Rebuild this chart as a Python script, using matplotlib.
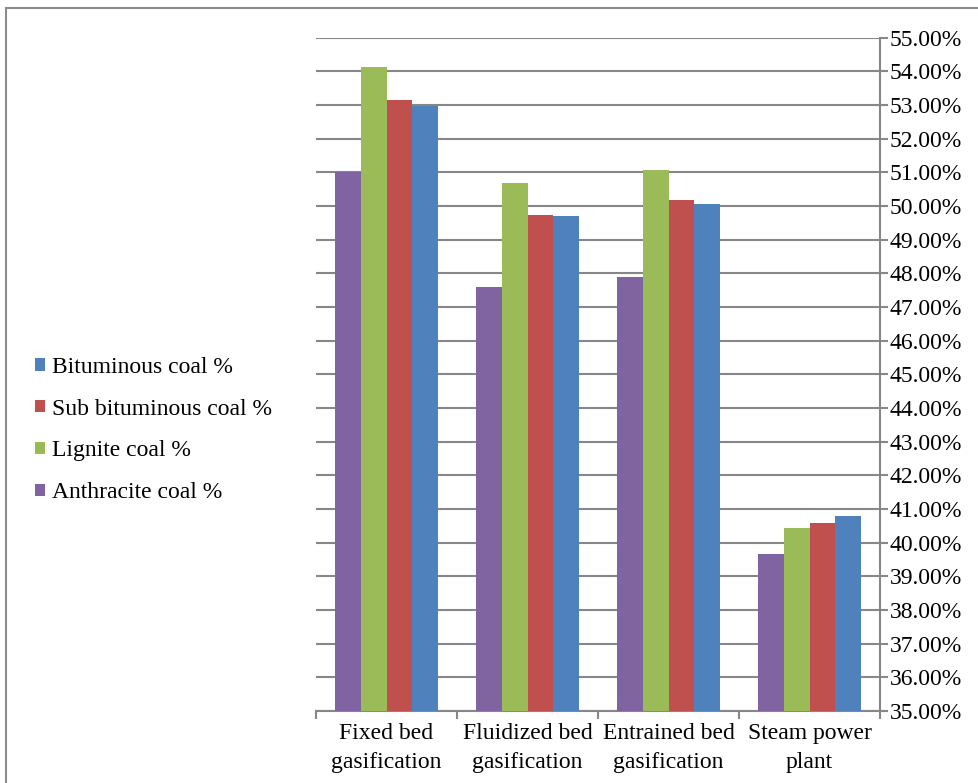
import matplotlib.pyplot as plt
from matplotlib.patches import Rectangle
from matplotlib.ticker import FuncFormatter, MultipleLocator
import numpy as np

plt.rcParams['font.family'] = ['Liberation Serif', 'DejaVu Serif']

# Efficiency (%) by technology and coal rank
categories = ['Fixed bed\ngasification', 'Fluidized bed\ngasification',
              'Entrained bed\ngasification', 'Steam power\nplant']
anthracite = [51.0, 47.6, 47.9, 39.67]
lignite = [54.11, 50.69, 51.07, 40.44]
sub_bituminous = [53.15, 49.74, 50.16, 40.57]
bituminous = [52.96, 49.69, 50.07, 40.79]

series = [
    ('Anthracite coal %', anthracite, '#8064A2'),
    ('Lignite coal %', lignite, '#9BBB59'),
    ('Sub bituminous coal %', sub_bituminous, '#C0504D'),
    ('Bituminous coal %', bituminous, '#4F81BD'),
]

fig = plt.figure(figsize=(9.79, 7.83), dpi=100)
ax = fig.add_axes([0.3228, 0.0920, 0.8989 - 0.3228, 0.9521 - 0.0920])

# outer chart border
fig.patches.append(Rectangle((6 / 979, -0.1), 1.2, 1 - 8 / 783 + 0.1,
                             transform=fig.transFigure, fill=False,
                             edgecolor='#8c8c8c', linewidth=1.5))

x = np.arange(len(categories))
w = 0.182
handles = []
for i, (name, vals, col) in enumerate(series):
    b = ax.bar(x + (i - 1.5) * w, vals, width=w, color=col, label=name,
               zorder=3, bottom=0)
    handles.append(b)

ax.set_ylim(35, 55)
ax.set_xlim(-0.5, len(categories) - 0.5)
ax.yaxis.set_major_locator(MultipleLocator(1))
ax.yaxis.set_major_formatter(FuncFormatter(lambda v, p: f'{v:.2f}%'))
ax.yaxis.tick_right()
ax.grid(axis='y', color='#878787', linewidth=1.5, zorder=0)

for side in ['top', 'left']:
    ax.spines[side].set_visible(False)
for side in ['right', 'bottom']:
    ax.spines[side].set_color('#878787')
    ax.spines[side].set_linewidth(1.5)

ax.set_xticks(np.arange(len(categories) + 1) - 0.5)
ax.set_xticklabels([])
ax.set_xticks(x, minor=True)
ax.set_xticklabels(categories, minor=True, fontsize=17, linespacing=1.45)
ax.tick_params(axis='x', which='major', length=6, width=1.5, color='#878787')
ax.tick_params(axis='x', which='minor', length=0, pad=9)
ax.tick_params(axis='y', length=6, width=1.5, color='#878787',
               labelsize=17, pad=1)

leg = fig.legend(handles[::-1], [s[0] for s in series][::-1],
                 loc='center left', bbox_to_anchor=(14 / 979, 1 - 430 / 783),
                 frameon=False, fontsize=17, handlelength=0.42,
                 handleheight=0.42, handletextpad=0.3, labelspacing=0.88)

fig.savefig('out.png', dpi=100)
